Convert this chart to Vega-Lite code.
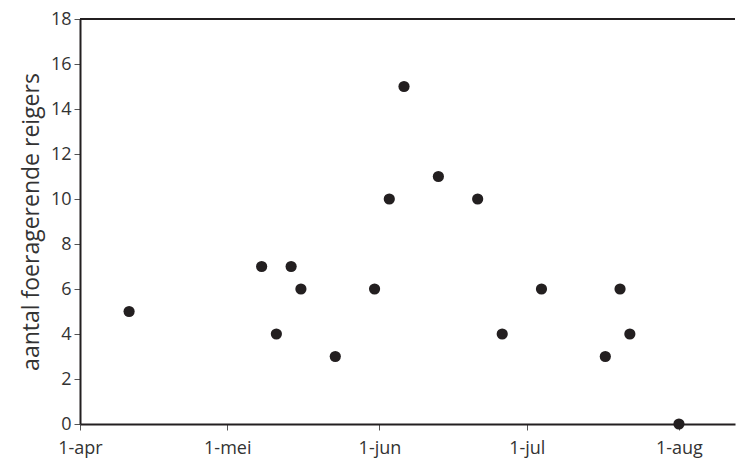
{
  "$schema": "https://vega.github.io/schema/vega-lite/v6.json",
  "width": 655,
  "height": 405,
  "autosize": "none",
  "padding": {"left": 80, "top": 19, "right": 1, "bottom": 41},
  "background": "white",
  "config": {
    "view": {"stroke": null},
    "font": "Open Sans"
  },
  "data": {
    "values": [
      {"datum": "2020-04-11", "aantal": 5},
      {"datum": "2020-05-08", "aantal": 7},
      {"datum": "2020-05-11", "aantal": 4},
      {"datum": "2020-05-14", "aantal": 7},
      {"datum": "2020-05-16", "aantal": 6},
      {"datum": "2020-05-23", "aantal": 3},
      {"datum": "2020-05-31", "aantal": 6},
      {"datum": "2020-06-03", "aantal": 10},
      {"datum": "2020-06-06", "aantal": 15},
      {"datum": "2020-06-13", "aantal": 11},
      {"datum": "2020-06-21", "aantal": 10},
      {"datum": "2020-06-26", "aantal": 4},
      {"datum": "2020-07-04", "aantal": 6},
      {"datum": "2020-07-17", "aantal": 3},
      {"datum": "2020-07-20", "aantal": 6},
      {"datum": "2020-07-22", "aantal": 4},
      {"datum": "2020-08-01", "aantal": 0}
    ]
  },
  "layer": [
    {
      "mark": {"type": "point", "filled": true, "size": 125, "color": "#231f20", "opacity": 1, "clip": false},
      "encoding": {
        "x": {
          "field": "datum",
          "type": "temporal",
          "scale": {"type": "utc", "domain": ["2020-04-01T00:00:00Z", "2020-08-12T10:00:00Z"]},
          "axis": {
            "title": null,
            "values": ["2020-04-01T00:00:00Z", "2020-05-01T00:00:00Z", "2020-06-01T00:00:00Z", "2020-07-01T00:00:00Z", "2020-08-01T00:00:00Z"],
            "labelExpr": "'1-' + ['jan','feb','mrt','apr','mei','jun','jul','aug','sep','okt','nov','dec'][utcmonth(datum.value)]",
            "labelFontSize": 18,
            "labelColor": "#333333",
            "labelPadding": 9,
            "labelFlush": false,
            "grid": false,
            "domainColor": "#231f20",
            "domainWidth": 2,
            "tickColor": "#555555",
            "tickWidth": 1,
            "tickSize": 6
          }
        },
        "y": {
          "field": "aantal",
          "type": "quantitative",
          "scale": {"domain": [0, 18], "nice": false},
          "axis": {
            "title": "aantal foeragerende reigers",
            "titleFontSize": 23,
            "titleFontWeight": "normal",
            "titleColor": "#333333",
            "titlePadding": 7,
            "values": [0, 2, 4, 6, 8, 10, 12, 14, 16, 18],
            "labelFontSize": 18,
            "labelColor": "#333333",
            "labelPadding": 3,
            "labelFlush": false,
            "grid": false,
            "domainColor": "#231f20",
            "domainWidth": 2,
            "tickColor": "#555555",
            "tickWidth": 1,
            "tickSize": 6
          }
        }
      }
    },
    {
      "mark": {"type": "rule", "color": "#231f20", "strokeWidth": 2},
      "encoding": {
        "y": {"datum": 18, "type": "quantitative"}
      }
    }
  ]
}
